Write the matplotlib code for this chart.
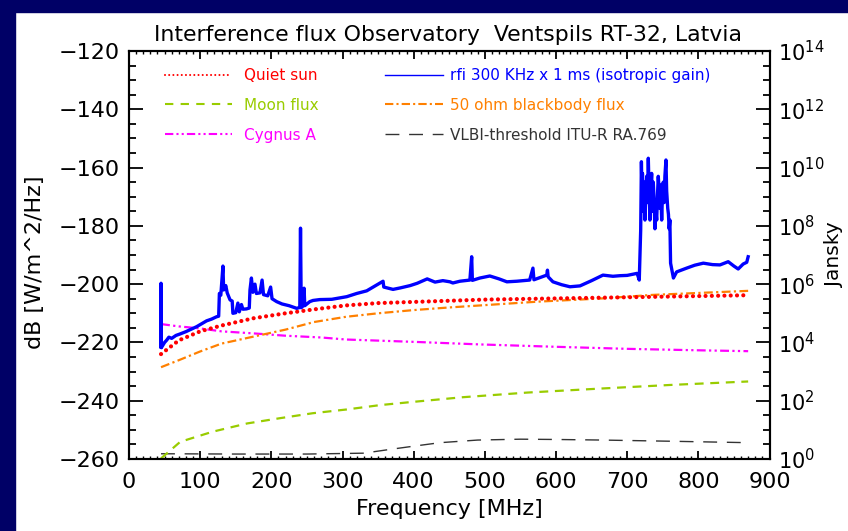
"""Interference flux at Ventspils RT-32 -- IDL-style plot with dB and Jansky axes."""

import matplotlib
matplotlib.use("Agg")
import matplotlib.pyplot as plt
import matplotlib.ticker as mticker
from matplotlib.lines import Line2D
from matplotlib.patches import Rectangle


# frequencies in MHz, flux in dB [W/m^2/Hz]
sun_f = [45, 70, 100, 130, 175, 220, 265, 305, 350, 400, 450, 500, 600, 700, 800, 870]
sun_db = [-224.0, -219.3, -216.2, -214.2, -211.7, -210.0, -208.5, -207.3,
          -206.5, -206.1, -205.7, -205.3, -204.9, -204.5, -204.1, -203.8]

moon_f = [45, 72, 118, 166, 212, 258, 306, 353, 399, 469, 560, 665, 760, 870]
moon_db = [-259.8, -254.1, -250.6, -247.8, -246.0, -244.3, -243.0, -241.5,
           -240.4, -238.8, -237.2, -235.8, -234.6, -233.4]

cyg_f = [45, 70, 100, 130, 175, 220, 270, 305, 400, 495, 600, 700, 800, 870]
cyg_db = [-213.7, -214.5, -215.2, -216.2, -216.9, -217.7, -218.3, -219.0,
          -219.8, -220.7, -221.5, -222.2, -222.7, -223.0]

bb_f = [45, 70, 100, 130, 175, 220, 260, 305, 350, 400, 450, 500, 575, 665, 735, 870]
bb_db = [-228.5, -226.1, -223.1, -220.4, -218.0, -215.6, -213.0, -211.2,
         -210.0, -208.9, -208.0, -207.2, -206.0, -204.9, -203.7, -202.3]

vlbi_f = [45, 150, 250, 330, 367, 400, 437, 490, 550, 600, 665, 760, 870]
vlbi_db = [-258.2, -258.3, -258.3, -258.0, -256.7, -255.6, -254.4, -253.5,
           -253.2, -253.3, -253.5, -253.9, -254.4]

rfi_f = [44.5, 45.0, 45.5, 50, 53, 56, 60, 66, 71.7, 80, 88, 95, 102, 109, 116,
         123, 126, 127, 129, 132, 133, 136, 138, 142, 145, 146, 150, 153, 155,
         158, 160, 165, 169, 170, 172, 174, 177, 179, 184, 187, 189, 195, 199,
         201, 207.5, 215, 225, 235.6, 240, 241, 242, 244.5, 246, 247, 254,
         258.5, 268, 285, 306, 320, 334, 348, 357, 358, 371, 381, 395, 405,
         419, 430, 441, 451, 455, 465, 479, 481.5, 482.5, 493, 507, 520, 531,
         545, 563, 567.6, 569, 580, 587, 588, 589, 595.7, 608, 619.6, 633.7,
         650, 666, 680, 690, 700, 714, 717,
         719, 720, 720.8, 721.5, 722.7, 724, 725, 726, 727.4, 728.5, 729.7, 731,
         732, 733, 734.4, 735.5, 736.7, 738, 739, 740, 741.5, 742.5, 743.7,
         745, 746, 747, 748.5, 749.5, 750.7, 752, 753, 754.5, 755.5, 757, 758,
         759, 760, 761, 765, 769.5, 783.6, 795, 807, 820, 830.4, 842, 850, 856,
         863, 868, 870]
rfi_db = [-221.5, -199.7, -221.8, -220.0, -219.2, -218.2, -218.6, -217.6, -217.1,
          -216.3, -215.4, -214.6, -213.6, -212.6, -212.0, -211.2, -211.0, -203.2,
          -203.8, -193.8, -202.0, -200.5, -203.0, -205.4, -205.8, -210.0, -209.8,
          -206.5, -209.5, -207.0, -208.6, -208.5, -208.2, -202.0, -197.9, -202.8,
          -200.0, -203.2, -203.0, -198.6, -203.6, -204.0, -201.0, -205.0, -206.0,
          -206.8, -207.4, -208.3, -208.0, -180.8, -208.1, -207.5, -201.4, -207.4,
          -206.0, -205.6, -205.3, -205.2, -204.3, -203.2, -202.3, -200.3, -199.0,
          -201.0, -201.8, -201.3, -200.5, -199.7, -198.2, -199.3, -198.8, -199.2,
          -199.6, -199.0, -198.6, -190.6, -198.7, -197.9, -197.2, -198.2, -199.2,
          -199.0, -198.6, -194.5, -198.5, -197.5, -196.9, -195.2, -197.5, -199.2,
          -200.2, -200.9, -200.6, -198.8, -196.9, -197.3, -197.1, -197.0, -196.3,
          -198.6,
          -181.4, -158.0, -168.0, -162.0, -175.0, -165.0, -178.0, -170.0, -163.0,
          -172.0, -156.8, -170.0, -178.0, -168.0, -162.0, -175.0, -165.0, -172.0,
          -181.0, -174.0, -178.0, -170.0, -163.0, -168.0, -174.0, -166.0, -178.0,
          -170.0, -165.0, -172.0, -163.0, -157.4, -168.0, -174.0, -176.0, -181.0,
          -178.0, -192.8, -197.9, -195.8, -194.5, -193.5, -192.8, -193.3, -193.4,
          -192.3, -193.8, -194.8, -193.1, -192.5, -190.6]

NAVY = "#000066"
RED = "#ff0000"
GREEN = "#99cc00"
MAGENTA = "#ff00ff"
BLUE = "#0000ff"
ORANGE = "#ff8000"
GREY = "#333333"

fig = plt.figure(figsize=(8.48, 5.31), dpi=100, facecolor="white")
# navy frame strips (top and left), as in the slide the plot was taken from
fig.add_artist(Rectangle((0, 1 - 12 / 531), 1, 12 / 531, transform=fig.transFigure,
                         color=NAVY, zorder=0))
fig.add_artist(Rectangle((0, 0), 15 / 848, 1, transform=fig.transFigure,
                         color=NAVY, zorder=0))

ax = fig.add_axes([129 / 848, 1 - 459 / 531, 640.5 / 848, 408 / 531])

ax.plot(vlbi_f, vlbi_db, color=GREY, lw=1.0, dashes=(10, 7))
ax.plot(moon_f, moon_db, color=GREEN, lw=1.6, dashes=(4, 3))
ax.plot(cyg_f, cyg_db, color=MAGENTA, lw=1.6, dashes=(4, 1.5, 1, 1.5, 1, 1.5))
ax.plot(bb_f, bb_db, color=ORANGE, lw=1.6, dashes=(4, 1.5, 1, 1.5))
ax.plot(sun_f, sun_db, color=RED, lw=3, dashes=(0.01, 1.5), dash_capstyle="round")
ax.plot(rfi_f, rfi_db, color=BLUE, lw=2.4)

ax.set_xlim(0, 900)
ax.set_ylim(-260, -120)

ax.xaxis.set_major_locator(mticker.MultipleLocator(100))
ax.xaxis.set_minor_locator(mticker.MultipleLocator(10))
ax.yaxis.set_major_locator(mticker.MultipleLocator(20))
ax.yaxis.set_minor_locator(mticker.MultipleLocator(5))
ax.tick_params(which="both", direction="in", top=True, right=False,
               labelsize=16, color="black")
ax.tick_params(axis="y", which="major", length=10, width=1.3, pad=6.5)
ax.tick_params(axis="y", which="minor", length=5, width=1.3)
ax.tick_params(axis="x", which="major", length=6, width=1.3, pad=9)
ax.tick_params(axis="x", which="minor", length=2.5, width=1.0)

# right axis: same dB scale expressed in Jansky (1 Jy = -260 dB W/m^2/Hz)
twin = ax.twinx()
twin.set_ylim(ax.get_ylim())
twin.yaxis.set_major_locator(mticker.MultipleLocator(20))
twin.yaxis.set_minor_locator(mticker.MultipleLocator(5))
twin.yaxis.set_major_formatter(
    mticker.FuncFormatter(lambda v, p: f"$10^{{{(v + 260) / 10:.0f}}}$"))
twin.tick_params(which="both", direction="in", labelsize=15)
twin.tick_params(which="major", length=10, width=1.3, pad=6)
twin.tick_params(which="minor", length=5, width=1.3)

for a in (ax, twin):
    for spine in a.spines.values():
        spine.set_linewidth(1.5)

ax.set_xlabel("Frequency [MHz]", fontsize=16)
ax.xaxis.set_label_coords(0.5, -0.098)
ax.set_ylabel("dB [W/m^2/Hz]", fontsize=16)
ax.yaxis.set_label_coords(-0.131, 0.483)
twin.set_ylabel("Jansky", fontsize=14.5)
twin.yaxis.set_label_coords(1.086, 0.5)

fig.text(448.5 / 848, 1 - 35 / 531,
         "Interference flux Observatory  Ventspils RT-32, Latvia",
         fontsize=15.8, ha="center", va="center")

# legend proxies with thinner strokes, like the IDL legend
left_handles = [
    Line2D([], [], color=RED, lw=1.5, dashes=(0.01, 2.0), dash_capstyle="round"),
    Line2D([], [], color=GREEN, lw=1.5, dashes=(4, 3.5)),
    Line2D([], [], color=MAGENTA, lw=1.5, dashes=(4, 1.5, 1, 1.5, 1, 1.5)),
]
left_labels = ["Quiet sun", "Moon flux", "Cygnus A"]
right_handles = [
    Line2D([], [], color=BLUE, lw=1.0),
    Line2D([], [], color=ORANGE, lw=1.5, dashes=(4, 1.5, 1, 1.5)),
    Line2D([], [], color=GREY, lw=1.0, dashes=(10, 7)),
]
right_labels = ["rfi 300 KHz x 1 ms (isotropic gain)", "50 ohm blackbody flux",
                "VLBI-threshold ITU-R RA.769"]

leg_top = (459 - 68) / 408
leg1 = twin.legend(left_handles, left_labels, loc="upper left",
                   bbox_to_anchor=((165 - 129) / 640.5, leg_top),
                   frameon=False, fontsize=11, handlelength=4.36,
                   handletextpad=0.8, labelspacing=0.97, borderpad=0,
                   borderaxespad=0, labelcolor="linecolor")
twin.add_artist(leg1)
twin.legend(right_handles, right_labels, loc="upper left",
            bbox_to_anchor=((385 - 129) / 640.5, leg_top),
            frameon=False, fontsize=11, handlelength=3.8,
            handletextpad=0.44, labelspacing=0.97, borderpad=0,
            borderaxespad=0, labelcolor="linecolor")

fig.savefig("out.png", dpi=100, facecolor="white")
